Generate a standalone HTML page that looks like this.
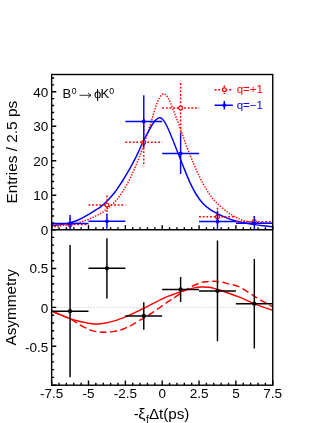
<!DOCTYPE html><html><head><meta charset="utf-8"><style>html,body{margin:0;padding:0;background:#fff}svg{display:block;will-change:transform}text{font-family:"Liberation Sans",sans-serif;fill:#000}</style></head><body>
<svg width="327" height="423" viewBox="0 0 327 423">
<rect width="327" height="423" fill="#fff"/>
<defs><clipPath id="cu"><rect x="51.65" y="74.50" width="221.10" height="155.25"/></clipPath><clipPath id="cl"><rect x="51.65" y="229.75" width="221.10" height="155.45"/></clipPath></defs>
<g clip-path="url(#cu)" fill="none">
<path d="M51.80,227.20 C53.17,227.00 57.03,226.43 60.00,226.00 C62.97,225.57 66.75,225.08 69.60,224.60 C72.45,224.12 74.87,223.65 77.10,223.10 C79.33,222.55 80.92,222.00 83.00,221.30 C85.08,220.60 87.43,219.82 89.60,218.90 C91.77,217.98 94.02,216.78 96.00,215.80 C97.98,214.82 99.68,214.13 101.50,213.00 C103.32,211.87 105.40,210.17 106.90,209.00 C108.40,207.83 109.08,207.28 110.50,206.00 C111.92,204.72 113.98,202.83 115.40,201.30 C116.82,199.77 117.72,198.55 119.00,196.80 C120.28,195.05 121.77,192.88 123.10,190.80 C124.43,188.72 125.72,186.60 127.00,184.30 C128.28,182.00 129.55,179.60 130.80,177.00 C132.05,174.40 133.22,171.67 134.50,168.70 C135.78,165.73 137.38,161.98 138.50,159.20 C139.62,156.42 140.37,154.28 141.20,152.00 C142.03,149.72 142.28,149.08 143.50,145.50 C144.72,141.92 147.00,135.17 148.50,130.50 C150.00,125.83 151.25,121.58 152.50,117.50 C153.75,113.42 154.83,109.28 156.00,106.00 C157.17,102.72 158.28,99.83 159.50,97.80 C160.72,95.77 162.05,94.02 163.30,93.80 C164.55,93.58 165.80,94.97 167.00,96.50 C168.20,98.03 169.13,99.90 170.50,103.00 C171.87,106.10 173.55,110.85 175.20,115.10 C176.85,119.35 178.73,123.93 180.40,128.50 C182.07,133.07 183.53,137.95 185.20,142.50 C186.87,147.05 188.77,151.72 190.40,155.80 C192.03,159.88 192.98,162.53 195.00,167.00 C197.02,171.47 200.00,177.93 202.50,182.60 C205.00,187.27 207.53,191.52 210.00,195.00 C212.47,198.48 214.37,200.65 217.30,203.50 C220.23,206.35 224.82,210.00 227.60,212.10 C230.38,214.20 231.90,214.88 234.00,216.10 C236.10,217.32 238.03,218.52 240.20,219.40 C242.37,220.28 244.67,220.92 247.00,221.40 C249.33,221.88 251.53,222.05 254.20,222.30 C256.87,222.55 259.90,222.75 263.00,222.90 C266.10,223.05 271.17,223.15 272.80,223.20" stroke="#ff0000" stroke-width="1.45" stroke-dasharray="1.4,1.4"/>
<path d="M51.80,225.70 C53.17,225.52 57.03,225.07 60.00,224.60 C62.97,224.13 66.75,223.58 69.60,222.90 C72.45,222.22 74.87,221.38 77.10,220.50 C79.33,219.62 80.92,218.70 83.00,217.60 C85.08,216.50 87.43,215.20 89.60,213.90 C91.77,212.60 94.27,210.88 96.00,209.80 C97.73,208.72 98.18,208.82 100.00,207.40 C101.82,205.98 105.23,202.87 106.90,201.30 C108.57,199.73 108.58,199.63 110.00,198.00 C111.42,196.37 113.98,193.33 115.40,191.50 C116.82,189.67 117.22,188.92 118.50,187.00 C119.78,185.08 121.05,183.35 123.10,180.00 C125.15,176.65 128.65,170.73 130.80,166.90 C132.95,163.07 134.72,159.52 136.00,157.00 C137.28,154.48 137.32,154.38 138.50,151.80 C139.68,149.22 141.52,144.75 143.10,141.50 C144.68,138.25 146.52,135.05 148.00,132.30 C149.48,129.55 150.75,127.00 152.00,125.00 C153.25,123.00 154.33,121.48 155.50,120.30 C156.67,119.12 157.87,118.12 159.00,117.90 C160.13,117.68 161.17,117.98 162.30,119.00 C163.43,120.02 164.48,121.58 165.80,124.00 C167.12,126.42 168.43,129.33 170.20,133.50 C171.97,137.67 174.32,143.75 176.40,149.00 C178.48,154.25 180.43,159.40 182.70,165.00 C184.97,170.60 187.78,177.77 190.00,182.60 C192.22,187.43 193.92,190.60 196.00,194.00 C198.08,197.40 200.17,200.43 202.50,203.00 C204.83,205.57 207.53,207.63 210.00,209.40 C212.47,211.17 214.63,212.22 217.30,213.60 C219.97,214.98 223.03,216.50 226.00,217.70 C228.97,218.90 231.93,219.92 235.10,220.80 C238.27,221.68 241.82,222.37 245.00,223.00 C248.18,223.63 251.20,224.13 254.20,224.60 C257.20,225.07 259.90,225.43 263.00,225.80 C266.10,226.17 271.17,226.63 272.80,226.80" stroke="#0000ff" stroke-width="1.45"/>
<path d="M51.64,224.60H88.50M70.07,218.10V231.10" stroke="#ff0000" stroke-width="1.45" stroke-dasharray="1.85,1.8"/>
<path d="M88.49,205.00H125.35M106.92,195.60V214.40" stroke="#ff0000" stroke-width="1.45" stroke-dasharray="1.85,1.8"/>
<path d="M125.34,142.30H162.20M143.77,118.40V166.20" stroke="#ff0000" stroke-width="1.45" stroke-dasharray="1.85,1.8"/>
<path d="M162.19,108.00H199.06M180.62,83.10V132.90" stroke="#ff0000" stroke-width="1.45" stroke-dasharray="1.85,1.8"/>
<path d="M199.04,216.80H235.91M217.47,207.80V225.80" stroke="#ff0000" stroke-width="1.45" stroke-dasharray="1.85,1.8"/>
<path d="M235.89,221.60H272.75M254.32,216.10V227.10" stroke="#ff0000" stroke-width="1.45" stroke-dasharray="1.85,1.8"/>
<circle cx="70.07" cy="224.60" r="1.9" fill="#fff" stroke="#ff0000" stroke-width="1.2"/>
<circle cx="106.92" cy="205.00" r="1.9" fill="#fff" stroke="#ff0000" stroke-width="1.2"/>
<circle cx="143.77" cy="142.30" r="1.9" fill="#fff" stroke="#ff0000" stroke-width="1.2"/>
<circle cx="180.62" cy="108.00" r="1.9" fill="#fff" stroke="#ff0000" stroke-width="1.2"/>
<circle cx="217.47" cy="216.80" r="1.9" fill="#fff" stroke="#ff0000" stroke-width="1.2"/>
<circle cx="254.32" cy="221.60" r="1.9" fill="#fff" stroke="#ff0000" stroke-width="1.2"/>
<path d="M51.64,223.50H88.50M70.07,215.10V231.90" stroke="#0000ff" stroke-width="1.45"/>
<circle cx="70.07" cy="223.50" r="1.9" fill="#0000ff"/>
<path d="M88.49,221.30H125.35M106.92,213.80V228.80" stroke="#0000ff" stroke-width="1.45"/>
<circle cx="106.92" cy="221.30" r="1.9" fill="#0000ff"/>
<path d="M125.34,121.40H162.20M143.77,95.30V147.50" stroke="#0000ff" stroke-width="1.45"/>
<circle cx="143.77" cy="121.40" r="1.9" fill="#0000ff"/>
<path d="M162.19,153.50H199.06M180.62,133.10V173.90" stroke="#0000ff" stroke-width="1.45"/>
<circle cx="180.62" cy="153.50" r="1.9" fill="#0000ff"/>
<path d="M199.04,221.50H235.91M217.47,210.70V232.30" stroke="#0000ff" stroke-width="1.45"/>
<circle cx="217.47" cy="221.50" r="1.9" fill="#0000ff"/>
<path d="M235.89,223.20H272.75M254.32,215.90V230.50" stroke="#0000ff" stroke-width="1.45"/>
<circle cx="254.32" cy="223.20" r="1.9" fill="#0000ff"/>
</g>
<g clip-path="url(#cl)" fill="none">
<path d="M51.65,307.40H272.75" stroke="#c8c8c8" stroke-width="0.8" stroke-dasharray="1.5,1.5"/>
<path d="M51.80,311.10 C53.50,311.82 58.97,314.12 62.00,315.40 C65.03,316.68 67.67,317.65 70.00,318.80 C72.33,319.95 73.67,320.90 76.00,322.30 C78.33,323.70 81.33,325.82 84.00,327.20 C86.67,328.58 89.33,329.80 92.00,330.60 C94.67,331.40 97.67,331.72 100.00,332.00 C102.33,332.28 103.83,332.37 106.00,332.30 C108.17,332.23 110.67,331.97 113.00,331.60 C115.33,331.23 117.93,330.68 120.00,330.10 C122.07,329.52 123.72,328.78 125.40,328.10 C127.08,327.42 128.70,326.70 130.10,326.00 C131.50,325.30 132.15,324.87 133.80,323.90 C135.45,322.93 138.38,321.13 140.00,320.20 C141.62,319.27 141.23,319.68 143.50,318.30 C145.77,316.92 150.23,314.15 153.60,311.90 C156.97,309.65 160.90,306.75 163.70,304.80 C166.50,302.85 168.45,301.52 170.40,300.20 C172.35,298.88 173.17,298.42 175.40,296.90 C177.63,295.38 181.37,292.68 183.80,291.10 C186.23,289.52 187.47,288.70 190.00,287.40 C192.53,286.10 196.38,284.23 199.00,283.30 C201.62,282.37 203.20,282.13 205.70,281.80 C208.20,281.47 211.62,281.30 214.00,281.30 C216.38,281.30 217.73,281.42 220.00,281.80 C222.27,282.18 224.47,282.80 227.60,283.60 C230.73,284.40 235.25,285.08 238.80,286.60 C242.35,288.12 246.37,291.12 248.90,292.70 C251.43,294.28 251.75,294.70 254.00,296.10 C256.25,297.50 260.02,299.70 262.40,301.10 C264.78,302.50 266.57,303.53 268.30,304.50 C270.03,305.47 272.05,306.50 272.80,306.90" stroke="#ff0000" stroke-width="1.45" stroke-dasharray="7,3.5"/>
<path d="M51.80,311.10 C53.50,311.82 58.95,314.15 62.00,315.40 C65.05,316.65 67.43,317.67 70.10,318.60 C72.77,319.53 75.52,320.37 78.00,321.00 C80.48,321.63 82.72,321.93 85.00,322.40 C87.28,322.87 89.45,323.53 91.70,323.80 C93.95,324.07 95.97,324.17 98.50,324.00 C101.03,323.83 104.10,323.37 106.90,322.80 C109.70,322.23 113.12,321.25 115.30,320.60 C117.48,319.95 118.32,319.53 120.00,318.90 C121.68,318.27 123.72,317.47 125.40,316.80 C127.08,316.13 128.70,315.52 130.10,314.90 C131.50,314.28 132.15,313.90 133.80,313.10 C135.45,312.30 138.38,310.87 140.00,310.10 C141.62,309.33 141.23,309.65 143.50,308.50 C145.77,307.35 150.23,304.93 153.60,303.20 C156.97,301.47 160.97,299.37 163.70,298.10 C166.43,296.83 168.05,296.35 170.00,295.60 C171.95,294.85 173.65,294.25 175.40,293.60 C177.15,292.95 178.68,292.32 180.50,291.70 C182.32,291.08 184.07,290.53 186.30,289.90 C188.53,289.27 191.52,288.38 193.90,287.90 C196.28,287.42 198.08,287.10 200.60,287.00 C203.12,286.90 206.18,286.90 209.00,287.30 C211.82,287.70 215.33,288.82 217.50,289.40 C219.67,289.98 218.45,289.55 222.00,290.80 C225.55,292.05 233.47,294.77 238.80,296.90 C244.13,299.03 248.33,301.33 254.00,303.60 C259.67,305.87 269.67,309.35 272.80,310.50" stroke="#ff0000" stroke-width="1.45"/>
<path d="M51.64,311.20H88.50M70.07,245.10V377.30" stroke="#000" stroke-width="1.45"/>
<circle cx="70.07" cy="311.20" r="2.15" fill="#000"/>
<path d="M88.49,268.30H125.35M106.92,238.20V298.40" stroke="#000" stroke-width="1.45"/>
<circle cx="106.92" cy="268.30" r="2.15" fill="#000"/>
<path d="M125.34,316.00H162.20M143.77,302.30V329.70" stroke="#000" stroke-width="1.45"/>
<circle cx="143.77" cy="316.00" r="2.15" fill="#000"/>
<path d="M162.19,289.50H199.06M180.62,277.10V301.90" stroke="#000" stroke-width="1.45"/>
<circle cx="180.62" cy="289.50" r="2.15" fill="#000"/>
<path d="M199.04,290.90H235.91M217.47,240.50V341.30" stroke="#000" stroke-width="1.45"/>
<circle cx="217.47" cy="290.90" r="2.15" fill="#000"/>
<path d="M235.89,303.70H272.75M254.32,259.00V348.40" stroke="#000" stroke-width="1.45"/>
<circle cx="254.32" cy="303.70" r="2.15" fill="#000"/>
</g>
<path d="M51.65,229.75h4.60M51.65,222.85h2.50M51.65,215.95h2.50M51.65,209.05h2.50M51.65,202.15h2.50M51.65,195.25h4.60M51.65,188.35h2.50M51.65,181.45h2.50M51.65,174.55h2.50M51.65,167.65h2.50M51.65,160.75h4.60M51.65,153.85h2.50M51.65,146.95h2.50M51.65,140.05h2.50M51.65,133.15h2.50M51.65,126.25h4.60M51.65,119.35h2.50M51.65,112.45h2.50M51.65,105.55h2.50M51.65,98.65h2.50M51.65,91.75h4.60M51.65,84.85h2.50M51.65,77.95h2.50M51.65,229.75v-4.60M51.65,385.20v-4.60M59.02,229.75v-2.40M59.02,385.20v-2.40M66.39,229.75v-2.40M66.39,385.20v-2.40M73.76,229.75v-2.40M73.76,385.20v-2.40M81.13,229.75v-2.40M81.13,385.20v-2.40M88.50,229.75v-4.60M88.50,385.20v-4.60M95.87,229.75v-2.40M95.87,385.20v-2.40M103.24,229.75v-2.40M103.24,385.20v-2.40M110.61,229.75v-2.40M110.61,385.20v-2.40M117.98,229.75v-2.40M117.98,385.20v-2.40M125.35,229.75v-4.60M125.35,385.20v-4.60M132.72,229.75v-2.40M132.72,385.20v-2.40M140.09,229.75v-2.40M140.09,385.20v-2.40M147.46,229.75v-2.40M147.46,385.20v-2.40M154.83,229.75v-2.40M154.83,385.20v-2.40M162.20,229.75v-4.60M162.20,385.20v-4.60M169.57,229.75v-2.40M169.57,385.20v-2.40M176.94,229.75v-2.40M176.94,385.20v-2.40M184.31,229.75v-2.40M184.31,385.20v-2.40M191.68,229.75v-2.40M191.68,385.20v-2.40M199.05,229.75v-4.60M199.05,385.20v-4.60M206.42,229.75v-2.40M206.42,385.20v-2.40M213.79,229.75v-2.40M213.79,385.20v-2.40M221.16,229.75v-2.40M221.16,385.20v-2.40M228.53,229.75v-2.40M228.53,385.20v-2.40M235.90,229.75v-4.60M235.90,385.20v-4.60M243.27,229.75v-2.40M243.27,385.20v-2.40M250.64,229.75v-2.40M250.64,385.20v-2.40M258.01,229.75v-2.40M258.01,385.20v-2.40M265.38,229.75v-2.40M265.38,385.20v-2.40M272.75,229.75v-4.60M272.75,385.20v-4.60M51.65,385.20h4.60M51.65,377.42h2.50M51.65,369.64h2.50M51.65,361.86h2.50M51.65,354.08h2.50M51.65,346.30h4.60M51.65,338.52h2.50M51.65,330.74h2.50M51.65,322.96h2.50M51.65,315.18h2.50M51.65,307.40h4.60M51.65,299.62h2.50M51.65,291.84h2.50M51.65,284.06h2.50M51.65,276.28h2.50M51.65,268.50h4.60M51.65,260.72h2.50M51.65,252.94h2.50M51.65,245.16h2.50M51.65,237.38h2.50M51.65,229.60h4.60" stroke="#000" stroke-width="1.4" fill="none"/>
<rect x="51.65" y="74.50" width="221.10" height="310.70" fill="none" stroke="#000" stroke-width="1.40"/>
<path d="M51.65,229.75H272.75" stroke="#000" stroke-width="1.40"/>
<text x="48.3" y="234.95" font-size="13.5" text-anchor="end">0</text>
<text x="48.3" y="200.45" font-size="13.5" text-anchor="end">10</text>
<text x="48.3" y="165.95" font-size="13.5" text-anchor="end">20</text>
<text x="48.3" y="131.45" font-size="13.5" text-anchor="end">30</text>
<text x="48.3" y="96.95" font-size="13.5" text-anchor="end">40</text>
<text x="48.3" y="272.80" font-size="13.5" text-anchor="end">0.5</text>
<text x="48.3" y="313.30" font-size="13.5" text-anchor="end">0</text>
<text x="48.3" y="352.00" font-size="13.5" text-anchor="end">-0.5</text>
<text x="51.65" y="398.4" font-size="13.5" text-anchor="middle">-7.5</text>
<text x="88.50" y="398.4" font-size="13.5" text-anchor="middle">-5</text>
<text x="125.35" y="398.4" font-size="13.5" text-anchor="middle">-2.5</text>
<text x="162.20" y="398.4" font-size="13.5" text-anchor="middle">0</text>
<text x="199.05" y="398.4" font-size="13.5" text-anchor="middle">2.5</text>
<text x="235.90" y="398.4" font-size="13.5" text-anchor="middle">5</text>
<text x="272.75" y="398.4" font-size="13.5" text-anchor="middle">7.5</text>
<text transform="translate(17,203.5) rotate(-90)" font-size="15.4">Entries / 2.5 ps</text>
<text transform="translate(16.4,345.5) rotate(-90)" font-size="15.3">Asymmetry</text>
<text x="133.7" y="419.2" font-size="15">-</text><text x="138.2" y="419.2" font-size="15" textLength="7.2" lengthAdjust="spacingAndGlyphs">ξ</text><text x="145.9" y="422.6" font-size="10">f</text><text x="148.9" y="419.2" font-size="15.2">Δt(ps)</text>
<text x="62.6" y="98.3" font-size="13">B</text><text x="71.8" y="93.5" font-size="8.7">0</text><path d="M79.4,95.3H91.0M87.9,92.9L91.0,95.3L87.9,97.7" stroke="#000" stroke-width="0.8" fill="none"/><text x="94.0" y="98.3" font-size="13">ϕ</text><text x="100.6" y="98.3" font-size="13">K</text><text x="109.3" y="93.5" font-size="8.7">0</text>
<path d="M214.6,89.8H232.8M224.3,85.5V94" stroke="#ff0000" stroke-width="1.45" stroke-dasharray="1.85,1.8" fill="none"/>
<circle cx="224.3" cy="89.8" r="1.9" fill="#fff" stroke="#ff0000" stroke-width="1.2"/>
<text x="236.7" y="93.4" font-size="11.5" style="fill:#ff0000">q=+1</text>
<path d="M214.6,105.2H232.8M224.3,101V109.4" stroke="#0000ff" stroke-width="1.45" fill="none"/>
<circle cx="224.3" cy="105.2" r="1.9" fill="#0000ff"/>
<text x="236.7" y="108.8" font-size="11.5" style="fill:#0000ff">q=−1</text>
</svg></body></html>
